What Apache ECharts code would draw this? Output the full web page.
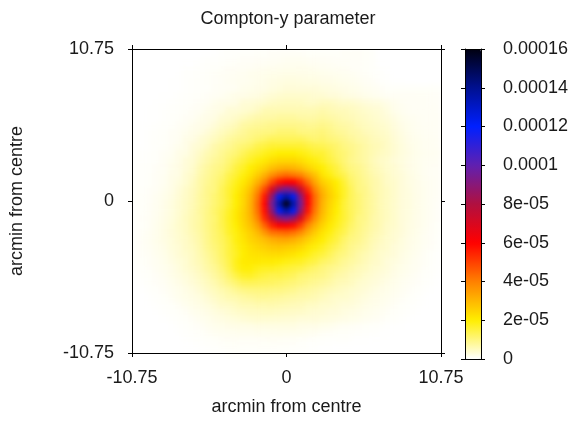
<!DOCTYPE html>
<html><head><meta charset="utf-8">
<script src="https://cdn.jsdelivr.net/npm/echarts@6/dist/echarts.min.js"></script>
<style>
html,body{margin:0;padding:0;background:#fff;}
#wrap{position:relative;width:588px;height:421px;background:#fff;}
#clip{position:absolute;left:132px;top:49px;width:309px;height:310px;overflow:hidden;}
#heat{width:309px;height:310px;filter:blur(2.5px);}
#main{position:absolute;left:0;top:0;width:588px;height:421px;}
</style></head>
<body><div id="wrap"><div id="clip"><div id="heat"></div></div><div id="main"></div></div>
<script>
// cell centres (arcmin from centre)
const xCentres = [-10.5,-10,-9.5,-9,-8.5,-8,-7.5,-7,-6.5,-6,-5.5,-5,-4.5,-4,-3.5,-3,-2.5,-2,-1.5,-1,-0.5,0,0.5,1,1.5,2,2.5,3,3.5,4,4.5,5,5.5,6,6.5,7,7.5,8,8.5,9,9.5,10,10.5];
const yCentres = [10.5,10,9.5,9,8.5,8,7.5,7,6.5,6,5.5,5,4.5,4,3.5,3,2.5,2,1.5,1,0.5,0,-0.5,-1,-1.5,-2,-2.5,-3,-3.5,-4,-4.5,-5,-5.5,-6,-6.5,-7,-7.5,-8,-8.5,-9,-9.5,-10,-10.5];
// Compton-y in units of 1e-6, one row per yCentre (top to bottom), one value per xCentre
const r00=[0,0,0,0,0,0,0,0,0,0,0,0.1,0.2,0.3,0.3,0.4,0.4,0.5,0.5,0.6,0.6,0.6,0.6,0.6,0.5,0.5,0.5,0.5,0.5,0.6,0.6,0.6,0.5,0.4,0,0,0,0,0,0,0,0,0];
const r01=[0,0,0,0,0,0,0,0,0,0.1,0.2,0.2,0.3,0.4,0.5,0.6,0.6,0.7,0.7,0.8,0.9,1,1,1,0.9,0.8,0.8,0.7,0.6,0.6,0.6,0.6,0.5,0.4,0,0,0,0,0,0,0,0,0];
const r02=[0,0,0,0,0,0,0,0.1,0.1,0.2,0.3,0.4,0.5,0.6,0.7,0.8,0.9,1,1.1,1.2,1.3,1.4,1.4,1.4,1.3,1.2,1.1,1,0.9,0.8,0.6,0.6,0.5,0.4,0.1,0,0,0,0,0,0,0,0];
const r03=[0,0,0,0,0,0,0.1,0.2,0.2,0.3,0.5,0.6,0.8,0.9,1,1.1,1.4,1.5,1.6,1.7,1.8,1.9,1.9,1.8,1.8,1.7,1.6,1.4,1.3,1.1,1,0.8,0.6,0.4,0.2,0.1,0,0,0,0,0,0,0];
const r04=[0,0,0,0,0,0.1,0.1,0.2,0.3,0.4,0.5,0.6,0.7,1,1.1,1.2,1.3,1.6,1.8,2.1,2.3,2.5,2.5,2.4,2.3,2.2,2,1.9,1.7,1.5,1.3,1.1,0.9,0.7,0.3,0.2,0.1,0.1,0,0,0,0,0];
const r05=[0,0,0,0,0,0.1,0.1,0.2,0.3,0.4,0.4,0.7,0.8,0.9,1,1.5,1.6,1.8,2,2.4,2.7,3,3,3,3,3,2.7,2.5,2.2,2,1.7,1.5,1.2,1,0.8,0.5,0.5,0.5,0.5,0.5,0.5,0.5,0.4];
const r06=[0,0,0,0,0.1,0.1,0.2,0.3,0.4,0.5,0.7,0.9,1,1.5,1.8,1.8,2.1,2.3,3,3.4,3.8,4,4,4,4,3.5,3.5,3,3,2.5,2.2,1.9,1.6,1.3,1.1,0.8,0.8,0.8,0.8,0.8,0.8,0.7,0.6];
const r07=[0,0,0,0.1,0.1,0.2,0.3,0.4,0.5,0.8,0.9,1.5,1.8,1.8,2.1,3.2,3.2,3.6,4,4.6,4.9,5,5,5,4.5,4.5,5,5,4.5,4,4,3.5,3,2.7,2.4,1.9,1.3,1,0.8,0.8,0.8,0.7,0.6];
const r08=[0,0,0.1,0.1,0.2,0.3,0.4,0.5,0.8,0.9,1.5,1.8,2.1,3.2,3.2,3.6,4,4.6,6,6,6,6,6,6,6,6,6.5,6,5.5,5.5,5,4.5,4,3.5,3.2,2.5,1.6,1.2,0.9,0.8,0.8,0.8,0.7];
const r09=[0,0,0.1,0.1,0.2,0.4,0.5,0.8,0.9,1.5,1.8,2.1,3.2,3.6,4.2,5,5.8,6.5,7,7,7.5,7.5,7.5,7,7,7,7.5,7,6.5,6,5.5,5,4.5,4,3.5,3,2.2,1.6,1.2,1,0.9,0.8,0.8];
const r10=[0,0.1,0.1,0.2,0.3,0.4,0.7,0.9,1.4,1.8,2.1,3,4,4.6,5.5,7,7.5,8,8.5,9,9,9,9,9,8.5,8.5,9,8.5,7.5,7,6.5,5.5,5,4.5,4,3.5,2.6,1.9,1.4,1.1,0.9,0.9,0.8];
const r11=[0,0.1,0.2,0.3,0.4,0.7,0.9,1.3,1.8,2.1,3,4,5,6,7,8,9,9.5,10,10,11,11,11,10,10,10,10.5,9.5,8.5,8,7,6.5,5.5,5,4.5,4,3,2.2,1.6,1.2,1,0.9,0.8];
const r12=[0.1,0.1,0.2,0.4,0.5,0.8,1,1.8,2.1,3.2,4,5,6.2,7.5,8.5,9,10,11,12,13,13,13,13,13,12,11,11.5,10.5,10,9,8,7,6.5,5.5,5,4.5,3.3,2.5,1.8,1.4,1.1,1,0.9];
const r13=[0,0.1,0.2,0.3,0.5,0.9,1.3,1.8,3,3.6,4.6,6.5,7.5,8.5,10,11,12,14,15,16,16,16,16,16,15,14,13.5,12.5,11.5,10,9,8,7,6,5.5,4.5,3.5,2.7,2,1.5,1.2,1,0.9];
const r14=[0.1,0.2,0.3,0.45,0.8,1,1.8,2.1,3.3,4.5,6,7,8.5,10,11,13,15,16,18,19,20,20,20,19,18,16,16,14,12,11,9.5,8,7,6,5,4.5,3.5,2.7,2.1,1.6,1.3,1.1,1];
const r15=[0.15,0.25,0.35,0.5,0.85,1.3,1.8,3,3.6,5.2,6.5,8,9,11,13,15,17,19,21,23,24,24,24,23,21,19,17,15,13,11,9,8,7,5.5,4.5,4,3,2.5,1.9,1.5,1.2,1,0.9];
const r16=[0.15,0.3,0.4,0.7,0.9,1.6,2.1,3,4,6,7.5,9,10,12,15,17,20,22,25,28,30,31,30,28,25,22,20,17,15,12,10,9,7.5,6,5,4,3.5,2.7,2,1.6,1.2,0.9,0.8];
const r17=[0.2,0.3,0.45,0.8,1,1.8,2.1,3.6,4.4,6.5,8,9.5,11,14,16,19,22,26,31,37,41,43,41,39,33,28,22,19,16,14,11,9.5,8,6.5,5.5,4.5,3.5,3,2.2,1.7,1.2,0.9,0.8];
const r18=[0.2,0.35,0.5,0.8,1.1,1.9,2.6,3.5,5,7,8.5,10,12,15,18,21,25,31,39,49,57,60,60,53,43,33,26,23,20,16,12,10,8.5,7,6,4.5,4,3,2.3,1.8,1.3,1,0.8];
const r19=[0.25,0.4,0.6,0.9,1.3,2,3,4.2,5.4,7,9,10,13,16,19,23,28,37,49,70,88,95,90,74,53,39,30,25,21,17,13,10,9,7,6,5,4,3,2.4,1.8,1.4,1,0.8];
const r20=[0.3,0.45,0.7,1.1,1.6,2.3,3.3,4.4,5.6,7.5,9,11,13,16,20,24,30,41,57,88,122,135,122,90,60,43,32,26,22,17,13,11,9,7.5,6,5,4,3,2.5,1.9,1.4,1,0.8];
const r21=[0.3,0.5,0.8,1.2,1.8,2.5,3.5,4.6,5.8,7.5,9,11,13,16,20,24,31,43,60,95,135,160,135,95,60,43,31,25,21,16,13,11,9,7.5,6,5,4,3,2.5,1.9,1.4,1,0.6];
const r22=[0.3,0.5,0.8,1.2,1.8,2.5,3.5,4.6,6,7.8,9.4,11.6,13.8,17,21,25,31,42,58,89,122,135,122,88,57,41,30,24,20,16,13,11,9,7.5,6,5,4,3,2.5,1.9,1.4,1,0.6];
const r23=[0.35,0.6,0.9,1.3,2,2.7,3.7,5,6.3,7.4,9.6,11,14,17.5,21,25,30,39,54,75,89,95,88,70,49,37,28,23,19,16,13,10,9,7,6,5,4,3,2.4,1.8,1.4,1,0.6];
const r24=[0.3,0.5,0.9,1.4,2.1,2.9,4,4.7,6.4,7.6,9.4,11.3,13.7,17,20,24,28,34,45,55,61,61,58,50,39,31,25,21,18,15,12,10,8.5,7,6,4.5,4,3,2.3,1.8,1.3,0.9,0.5];
const r25=[0.35,0.6,1,1.5,2.2,3,3.7,4.8,6,7.3,9.2,11.2,13.2,16.7,19,22.5,25.6,29.5,36,42,43,44,42,38,31.5,26,22,19,16,14,11,9.5,8,6.5,5.5,4.5,3.5,3,2.2,1.7,1.2,0.8,0.5];
const r26=[0.4,0.7,1.1,1.6,2.1,2.8,3.7,4.4,5.6,7,9,11.1,12.7,15.4,19,21.4,24.5,26.4,29,31.4,32.7,33,31.5,29,25.6,22.4,20.2,17,15,12,10,9,7.5,6,5,4,3.5,2.7,2,1.6,1.1,0.8,0.4];
const r27=[0.4,0.7,1,1.4,1.9,2.8,3.3,4.4,5.2,6.6,8.7,10.4,12.2,15,18,20.5,22.6,24.1,25.7,27,27.2,26.4,25.7,24.1,21.7,19.4,17.3,15,13,11,9,8,7,5.5,4.5,4,3,2.5,1.9,1.4,1,0.7,0.4];
const r28=[0.3,0.6,0.9,1.3,1.7,2.5,3.3,4,4.8,6.3,7.9,9.7,12,14.9,17.2,20.1,21.9,22.1,23.1,23.4,23.5,22.7,21.9,20.3,18.8,16.5,15.3,13.2,11,10,8.5,7,6,5,4,3.5,3,2.2,1.7,1.3,0.9,0.5,0.25];
const r29=[0.3,0.5,0.8,1.1,1.5,2.2,2.9,3.5,4.8,5.8,7.4,9.2,11.4,14.1,18.1,20.5,20.8,20.9,20.6,20.5,19.6,18.7,17.9,17.3,15.8,14.5,12.3,11.2,10,8.5,7.5,6.5,5.5,4.5,4,3,2.5,2,1.5,1.1,0.8,0.5,0.25];
const r30=[0.2,0.4,0.6,1,1.3,1.9,2.6,3.5,4.3,5.3,6.9,8.2,10.4,13.4,17.3,19.6,19.5,18.1,17.5,17.4,16.5,15.7,14.9,14.3,12.8,11.5,10.3,9.2,8.5,7.5,6.5,5.5,5,4,3.5,3,2.2,1.7,1.3,1,0.6,0.4,0.2];
const r31=[0.1,0.3,0.5,0.8,1.1,1.7,2.3,2.9,3.7,4.6,5.7,7.4,9,11.6,14.5,16.8,17.1,15.7,15,14,14.2,13.4,12.7,11.1,10.7,9.9,9.3,8.2,7,6.5,5.5,5,4,3.5,3,2.5,1.9,1.5,1.1,0.8,0.5,0.3,0.1];
const r32=[0,0.2,0.4,0.6,0.9,1.3,1.8,2.4,3.1,4,5,6.1,7.8,9.4,11.1,12.9,13.1,12.9,12.6,12.4,11.7,11.1,10.5,10,9.1,8.4,7.7,7,6,5.5,5,4,3.5,3,2.5,2,1.6,1.2,0.9,0.6,0.4,0.2,0];
const r33=[0,0.1,0.3,0.4,0.7,1.1,1.5,2,2.5,3.3,4.2,5.2,6.2,7.2,8.5,9.4,9.9,10,10.2,9.7,9.7,9.2,8.7,7.8,7.5,6.8,6.2,5.5,5,4.5,4,3.5,3,2.5,2,1.7,1.3,1,0.7,0.4,0.3,0.1,0];
const r34=[0,0,0.15,0.3,0.5,0.9,1.3,1.7,2.1,2.6,3.4,4.3,5.2,6.1,6.4,7.2,7.7,8.2,8.4,8.1,7.7,7.3,6.9,6.6,6.4,5.8,5.2,4.5,4,4,3.5,3,2.5,2,1.7,1.4,1.1,0.8,0.5,0.3,0.15,0,0];
const r35=[0,0,0.1,0.2,0.3,0.5,0.9,1.3,1.7,2.1,2.6,3.4,4.2,4.5,5.2,5.9,5.9,6.4,6.2,6.5,6.2,5.9,5.6,5.4,4.8,4.7,4,4,3.5,3,3,2.5,2,1.7,1.4,1.1,0.8,0.5,0.3,0.2,0.1,0,0];
const r36=[0,0,0,0.1,0.2,0.4,0.5,0.8,1.3,1.6,2,2.5,3,3.5,4.1,4.3,4.8,4.8,5.1,5,4.8,4.6,4.4,4.3,4,3.5,3.5,3,3,2.5,2.2,1.9,1.6,1.3,1.1,0.8,0.5,0.4,0.2,0.1,0,0,0];
const r37=[0,0,0,0,0.1,0.2,0.4,0.5,0.8,1.2,1.5,1.9,2.2,2.6,2.9,3.3,3.5,3.8,3.7,3.6,3.5,3.4,3.3,3,3,3,2.7,2.5,2.2,2,1.7,1.5,1.2,1,0.8,0.5,0.4,0.2,0.1,0,0,0,0];
const r38=[0,0,0,0,0,0.1,0.2,0.3,0.5,0.7,1.1,1.4,1.6,1.8,2,1.9,2,2.2,2.2,2.2,2.2,2.2,2.2,1.9,1.8,1.8,1.6,1.4,1.1,0.9,0.75,0.65,0.5,0.4,0.3,0.15,0.1,0.1,0,0,0,0,0];
const r39=[0,0,0,0,0,0,0.1,0.2,0.3,0.4,0.7,1,1.1,1.2,1.25,1.3,1.35,1.4,1.4,1.4,1.5,1.4,1.3,1.3,1.2,1,0.7,0.6,0.55,0.5,0.4,0.35,0.25,0.2,0.1,0.1,0,0,0,0,0,0,0];
const r40=[0,0,0,0,0,0,0,0.1,0.15,0.3,0.4,0.5,0.6,0.7,0.75,0.7,0.7,0.7,0.7,0.75,0.75,0.7,0.7,0.5,0.4,0.35,0.3,0.25,0.2,0.2,0.15,0.1,0.1,0,0,0,0,0,0,0,0,0,0];
const r41=[0,0,0,0,0,0,0,0,0,0.1,0.2,0.3,0.4,0.5,0.55,0.5,0.45,0.45,0.45,0.45,0.45,0.45,0.4,0.3,0.2,0.15,0.1,0.1,0,0,0,0,0,0,0,0,0,0,0,0,0,0,0];
const r42=[0,0,0,0,0,0,0,0,0,0,0,0.05,0.1,0.2,0.25,0.2,0.15,0.15,0.15,0.15,0.15,0.15,0.1,0.1,0.05,0,0,0,0,0,0,0,0,0,0,0,0,0,0,0,0,0,0];
const rows=[r00,r01,r02,r03,r04,r05,r06,r07,r08,r09,r10,r11,r12,r13,r14,r15,r16,r17,r18,r19,r20,r21,r22,r23,r24,r25,r26,r27,r28,r29,r30,r31,r32,r33,r34,r35,r36,r37,r38,r39,r40,r41,r42];

// axis ticks and colour-bar ticks
const axisTicks = [-10.75, 0, 10.75];
const axisTickLabels = ['-10.75', '0', '10.75'];
const cbTicks = [0, 20, 40, 60, 80, 100, 120, 140, 160]; // units of 1e-6
const cbTickLabels = ['0', '2e-05', '4e-05', '6e-05', '8e-05', '0.0001', '0.00012', '0.00014', '0.00016'];
const cbMin = 0, cbMax = 160;
const palette = ['#ffffff', '#ffee00', '#ff8000', '#ff0000', '#b01040', '#6020b0', '#0020ff', '#001090', '#000010'];

rows.forEach((r, i) => { if (r.length !== xCentres.length) throw new Error('row ' + i + ' has ' + r.length); });

const heatData = [];
rows.forEach((row, ri) => row.forEach((v, ci) => heatData.push([ci, ri, v])));

const FONT = '"Liberation Sans", Arial, sans-serif';
const TXT = '#1a1a1a';
const FS = 18;

const heat = echarts.init(document.getElementById('heat'));
heat.setOption({
  animation: false,
  grid: {left: 0, right: 0, top: 0, bottom: 0},
  xAxis: {type: 'category', data: xCentres, show: false},
  yAxis: {type: 'category', data: yCentres, inverse: true, show: false},
  visualMap: {show: false, min: cbMin, max: cbMax, dimension: 2, inRange: {color: palette}},
  series: [{type: 'heatmap', data: heatData, itemStyle: {borderWidth: 0}, emphasis: {disabled: true}}]
});

const tickStyle = {show: true, inside: false, length: 4, lineStyle: {color: '#000', width: 1}};
const lineStyle = {show: true, onZero: false, lineStyle: {color: '#000', width: 1}};
const fmtAxis = v => { const k = axisTicks.indexOf(v); return k >= 0 ? axisTickLabels[k] : ''; };
const fmtCb = v => { const k = cbTicks.indexOf(v); return k >= 0 ? cbTickLabels[k] : ''; };

const main = echarts.init(document.getElementById('main'));
main.setOption({
  animation: false,
  textStyle: {fontFamily: FONT},
  title: {text: 'Compton-y parameter', left: 288, top: 10, textAlign: 'center', padding: 0,
          textStyle: {fontSize: FS, fontWeight: 'normal', color: TXT, fontFamily: FONT}},
  grid: [
    {left: 132, top: 49, width: 309, height: 310, show: false},
    {left: 465, top: 49, width: 16, height: 310, show: false}
  ],
  xAxis: [
    {gridIndex: 0, type: 'value', position: 'bottom', min: -10.75, max: 10.75, interval: 10.75, z: 10,
     axisLine: lineStyle, axisTick: tickStyle, splitLine: {show: false},
     axisLabel: {formatter: fmtAxis, color: TXT, fontSize: FS, fontFamily: FONT, margin: 16},
     name: 'arcmin from centre', nameLocation: 'middle', nameGap: 45,
     nameTextStyle: {color: TXT, fontSize: FS, fontFamily: FONT}},
    {gridIndex: 0, type: 'value', position: 'top', min: -10.75, max: 10.75, interval: 10.75, z: 10,
     axisLine: lineStyle, axisTick: tickStyle, splitLine: {show: false}, axisLabel: {show: false}},
    {gridIndex: 1, type: 'value', position: 'bottom', min: 0, max: 1, z: 10,
     axisLine: lineStyle, axisTick: {show: false}, splitLine: {show: false}, axisLabel: {show: false}},
    {gridIndex: 1, type: 'value', position: 'top', min: 0, max: 1, z: 10,
     axisLine: lineStyle, axisTick: {show: false}, splitLine: {show: false}, axisLabel: {show: false}}
  ],
  yAxis: [
    {gridIndex: 0, type: 'value', position: 'left', min: -10.75, max: 10.75, interval: 10.75, z: 10,
     axisLine: lineStyle, axisTick: tickStyle, splitLine: {show: false},
     axisLabel: {formatter: fmtAxis, color: TXT, fontSize: FS, fontFamily: FONT, margin: 18},
     name: 'arcmin from centre', nameLocation: 'middle', nameGap: 106, nameRotate: 90,
     nameTextStyle: {color: TXT, fontSize: FS, fontFamily: FONT}},
    {gridIndex: 0, type: 'value', position: 'right', min: -10.75, max: 10.75, interval: 10.75, z: 10,
     axisLine: lineStyle, axisTick: tickStyle, splitLine: {show: false}, axisLabel: {show: false}},
    {gridIndex: 1, type: 'value', position: 'right', min: cbMin, max: cbMax, interval: 20, z: 10,
     axisLine: lineStyle, axisTick: tickStyle, splitLine: {show: false},
     axisLabel: {formatter: fmtCb, color: TXT, fontSize: FS, fontFamily: FONT, margin: 22}},
    {gridIndex: 1, type: 'value', position: 'left', min: cbMin, max: cbMax, interval: 20, z: 10,
     axisLine: lineStyle, axisTick: tickStyle, splitLine: {show: false}, axisLabel: {show: false}}
  ],
  visualMap: {type: 'continuous', min: cbMin, max: cbMax, show: true, calculable: false, hoverLink: false,
              left: 465, top: 49, itemWidth: 16, itemHeight: 310, padding: 0, inRange: {color: palette}},
  series: []
});
</script>
</body></html>
